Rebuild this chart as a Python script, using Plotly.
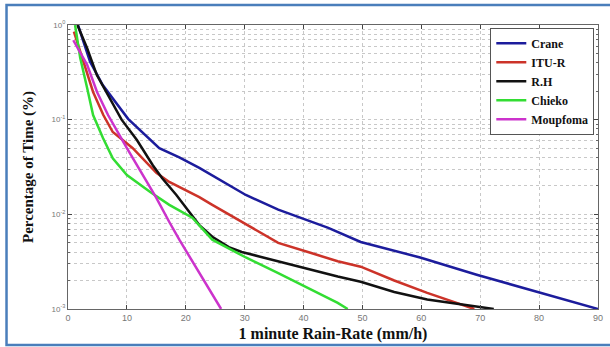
import plotly.graph_objects as go

crane_x = [1.7, 3.75, 5.9, 8.5, 10.2, 15.5, 18.9, 22.3, 30.2, 35.7, 44.2, 49.7, 59.8, 69.4, 80.0, 90.0]
crane_y = [1.0, 0.41, 0.232, 0.143, 0.102, 0.050, 0.040, 0.031, 0.016, 0.0112, 0.0072, 0.0051, 0.0035, 0.0023, 0.0015, 0.001]

itu_x = [1.0, 4.26, 6.0, 7.6, 11.0, 15.0, 17.2, 22.3, 24.5, 30.2, 35.7, 41.3, 45.8, 49.7, 55.4, 61.0, 69.0]
itu_y = [0.85, 0.196, 0.112, 0.074, 0.050, 0.0274, 0.022, 0.0152, 0.0126, 0.0079, 0.0050, 0.0039, 0.0032, 0.0028, 0.0020, 0.00148, 0.001]

rh_x = [1.6, 3.25, 4.9, 7.1, 9.1, 11.7, 14.4, 16.0, 18.4, 20.6, 22.3, 24.5, 27.3, 29.5, 34.6, 40.3, 45.8, 49.7, 55.4, 61.0, 69.4, 72.3]
rh_y = [1.0, 0.57, 0.296, 0.17, 0.1, 0.061, 0.033, 0.024, 0.016, 0.0106, 0.0077, 0.0058, 0.0045, 0.0040, 0.0033, 0.0027, 0.0022, 0.00194, 0.00151, 0.00126, 0.00105, 0.001]

chieko_x = [1.2, 2.07, 3.25, 4.26, 5.94, 7.6, 10.0, 13.9, 17.2, 21.1, 24.5, 30.2, 35.7, 41.3, 45.8, 47.5]
chieko_y = [1.0, 0.45, 0.216, 0.112, 0.064, 0.039, 0.026, 0.0173, 0.0126, 0.0092, 0.0054, 0.0035, 0.0024, 0.00159, 0.00116, 0.001]

moup_x = [0.9, 3.25, 4.93, 6.8, 10.0, 12.7, 15.0, 17.2, 18.9, 26.0]
moup_y = [0.69, 0.38, 0.196, 0.112, 0.050, 0.026, 0.0149, 0.0083, 0.0054, 0.001]

series = [
    ("Crane", crane_x, crane_y, "#1c1c9c"),
    ("ITU-R", itu_x, itu_y, "#cc3329"),
    ("R.H", rh_x, rh_y, "#111111"),
    ("Chieko", chieko_x, chieko_y, "#33dd33"),
    ("Moupfoma", moup_x, moup_y, "#cc33cc"),
]

x_ticks = [0, 10, 20, 30, 40, 50, 60, 70, 80, 90]
y_ticks = [1, 0.1, 0.01, 0.001]
y_ticktext = ["10<sup>0</sup>", "10<sup>-1</sup>", "10<sup>-2</sup>", "10<sup>-3</sup>"]

fig = go.Figure()
for name, xs, ys, col in series:
    fig.add_trace(go.Scatter(x=xs, y=ys, mode="lines", name="<b>" + name + "</b>",
                             line=dict(color=col, width=2.5)))

grid = dict(showgrid=True, gridcolor="#c8c8c8", griddash="dot", gridwidth=1)
fig.update_xaxes(range=[0, 90], tickvals=x_ticks, ticks="inside", ticklen=4,
                 showline=True, linecolor="#666666", linewidth=1, mirror="ticks",
                 tickfont=dict(family="Arial", size=9, color="#777777"),
                 zeroline=False, **grid,
                 title=dict(text="<b>1 minute Rain-Rate (mm/h)</b>", standoff=6,
                            font=dict(family="Liberation Serif", size=16, color="#111111")))
fig.update_yaxes(type="log", range=[-3, 0], tickvals=y_ticks, ticktext=y_ticktext,
                 ticks="inside", ticklen=4,
                 showline=True, linecolor="#666666", linewidth=1, mirror="ticks",
                 tickfont=dict(family="Arial", size=8, color="#777777"),
                 **grid,
                 minor=dict(dtick="D1", showgrid=True, gridcolor="#c8c8c8", griddash="dot",
                            ticks="inside", ticklen=2, tickcolor="#666666"),
                 title=dict(text="<b>Percentage of Time (%)</b>", standoff=14,
                            font=dict(family="Liberation Serif", size=15, color="#111111")))

fig.update_layout(
    width=610, height=347,
    margin=dict(l=68, r=7, t=25, b=38),
    paper_bgcolor="white", plot_bgcolor="white",
    showlegend=True,
    legend=dict(x=0.993, y=0.99, xanchor="right", yanchor="top",
                bgcolor="white", bordercolor="#555555", borderwidth=1,
                font=dict(family="Liberation Serif", size=12, color="#111111"),
                tracegroupgap=0, itemwidth=30),
)
# outer frame of the figure
fig.add_shape(type="rect", xref="paper", yref="paper",
              x0=-0.116, x1=1.03, y0=-0.127, y1=1.07,
              line=dict(color="#4a7ebb", width=2.5), fillcolor="rgba(0,0,0,0)", layer="above")

fig.write_html("out.html")
